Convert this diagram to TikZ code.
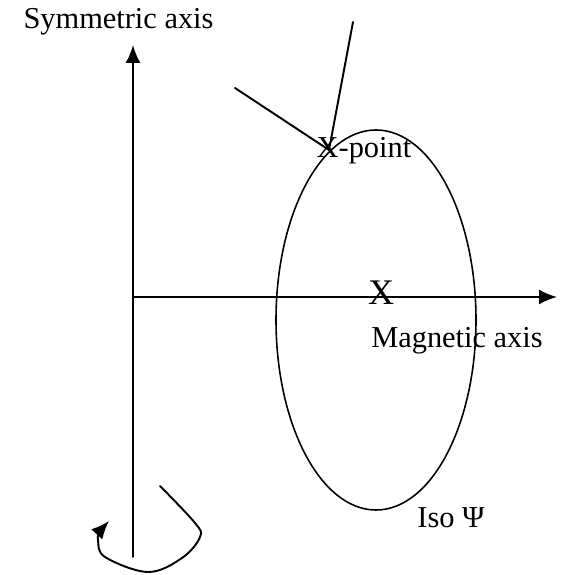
\documentclass[tikz,border=0pt]{standalone}
\usepackage{fontspec}
\setmainfont{Liberation Serif}
\usetikzlibrary{arrows.meta}
\begin{document}
\begin{tikzpicture}[>={Latex[length=3.6mm,width=3mm]},line join=round,line cap=round,line width=1.1pt,every node/.style={font=\fontsize{17.3}{20}\selectfont,inner sep=0pt}]
			\useasboundingbox (0,0) rectangle (11.28,11.5);
			\path
			(2.66,5.56) coordinate (O)
			(2.66,10.60) coordinate (T)
			(2.66,0.36) coordinate (B)
			(11.14,5.56) coordinate (M)
			(7.52,5.10) coordinate (C)
			(6.58,8.50) coordinate (P)
			(4.70,9.74) coordinate (L)
			(7.06,11.06) coordinate (U);
			\draw[->] (B) -- (T);
			\draw[->] (O) -- (M);
			\draw[line width=0.9pt] (C) ellipse [x radius=2, y radius=3.8];
			\draw (L) -- (P) -- (U);
			\draw[->] plot[smooth,tension=0.6] coordinates {(3.20,1.78) (3.90,1.04) (4.00,0.76) (3.64,0.34) (2.96,0.06) (2.10,0.36) (1.96,0.70) (2.00,0.86) (2.18,1.08)};
			\node[anchor=base] (sym) at (2.37,10.92) {Symmetric axis};
			\node[anchor=base] (mag) at (9.14,4.54) {Magnetic axis};
			\node[anchor=base,font=\fontsize{20.5}{22}\selectfont] (cen) at (7.62,5.40) {X};
			\node[anchor=base] (xpt) at (7.28,8.34) {X-point};
			\node[anchor=base] (iso) at (9.02,0.94) {Iso Ψ};
		\end{tikzpicture}
\end{document}
